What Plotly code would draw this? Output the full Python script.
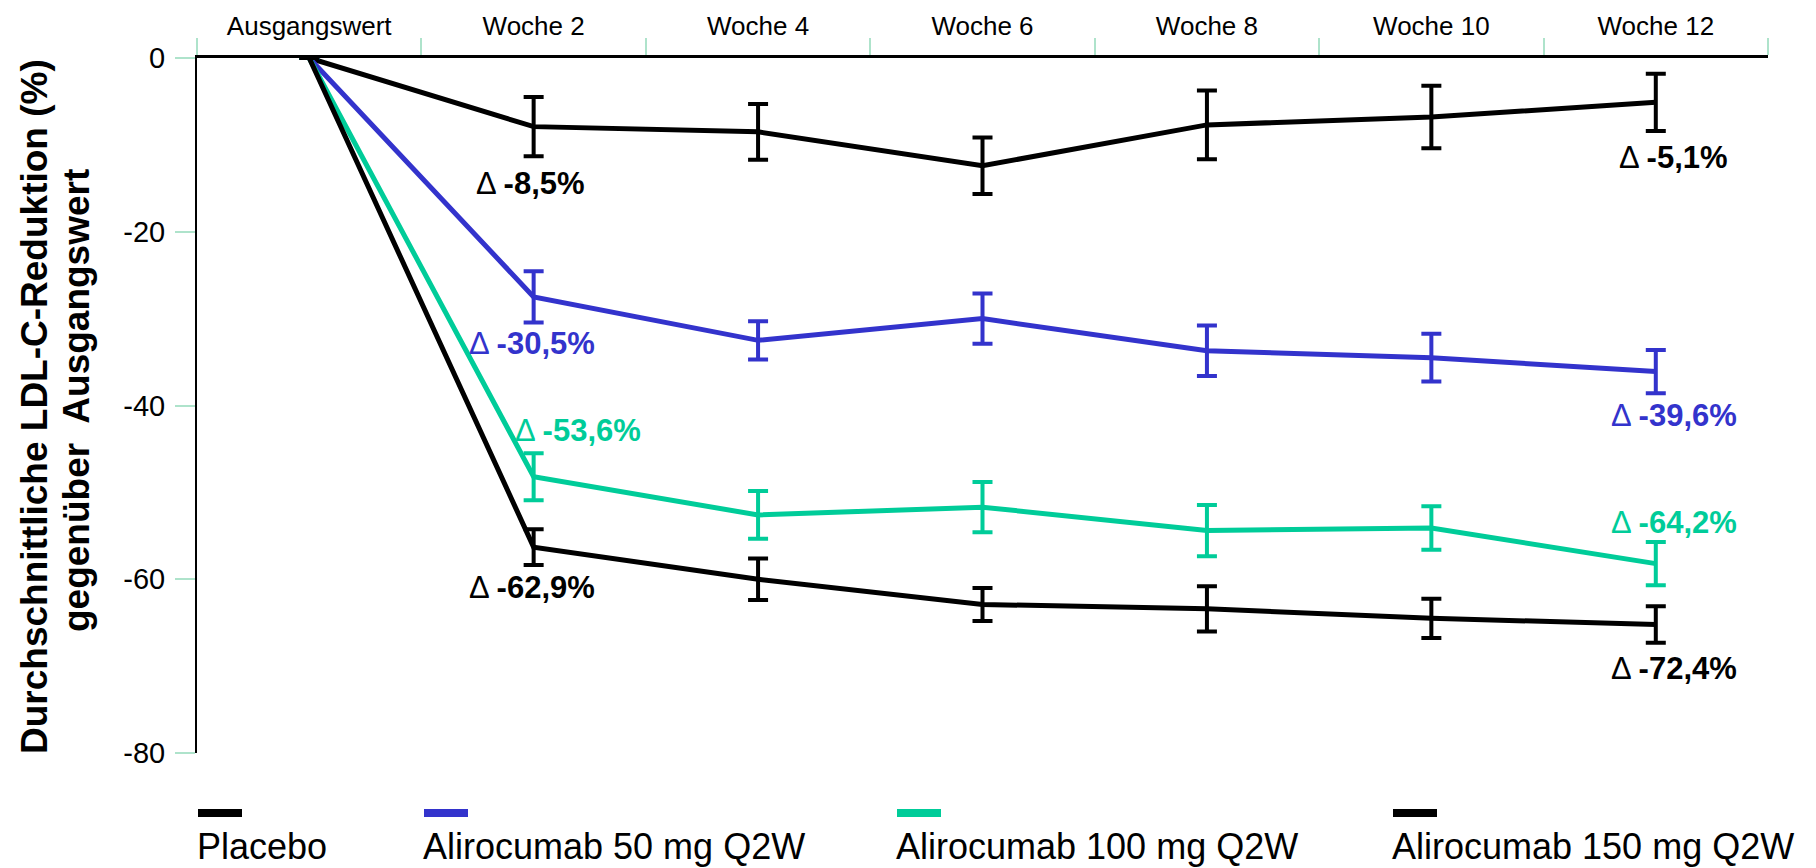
import plotly.graph_objects as go

# ---------------- data ----------------
categories = ["Ausgangswert", "Woche 2", "Woche 4", "Woche 6", "Woche 8", "Woche 10", "Woche 12"]

series_names = ["Placebo", "Alirocumab 50 mg Q2W", "Alirocumab 100 mg Q2W", "Alirocumab 150 mg Q2W"]
series_colors = ["#000000", "#3333CC", "#00CC99", "#000000"]

placebo = [0, -7.9, -8.5, -12.4, -7.7, -6.8, -5.1]
placebo_err = [None, 3.4, 3.2, 3.25, 3.95, 3.6, 3.3]

ali50 = [0, -27.5, -32.5, -30.0, -33.7, -34.5, -36.1]
ali50_err = [None, 2.95, 2.2, 2.9, 2.9, 2.75, 2.5]

ali100 = [0, -48.2, -52.6, -51.7, -54.4, -54.1, -58.2]
ali100_err = [None, 2.7, 2.75, 2.9, 2.95, 2.5, 2.5]

ali150 = [0, -56.3, -60.0, -62.9, -63.4, -64.5, -65.2]
ali150_err = [None, 2.05, 2.4, 1.9, 2.6, 2.25, 2.1]

values = [placebo, ali50, ali100, ali150]
errors = [placebo_err, ali50_err, ali100_err, ali150_err]

# delta labels: (series index, category, text, y position, horizontal shift)
delta_series = [0, 0, 1, 1, 2, 2, 3, 3]
delta_cats = ["Woche 2", "Woche 12", "Woche 2", "Woche 12", "Woche 2", "Woche 12", "Woche 2", "Woche 12"]
delta_texts = ["-8,5%", "-5,1%", "-30,5%", "-39,6%", "-53,6%", "-64,2%", "-62,9%", "-72,4%"]
delta_y = [-14.4, -11.5, -32.9, -41.2, -42.9, -53.5, -61.0, -70.3]
delta_xshift = [-3, 18, -2, 18, 44, 18, -2, 18]

y_ticks = [0, -20, -40, -60, -80]
y_title_1 = "Durchschnittliche LDL-C-Reduktion (%)"
y_title_2 = "gegenüber  Ausgangswert"

# ---------------- layout geometry (pixels) ----------------
W, H = 1816, 868
ML, MR, MT, MB = 197, 48, 58, 115
PW, PH = W - ML - MR, H - MT - MB

def px_x(px):
    return (px - ML) / PW

def px_y(py):
    return (H - MB - py) / PH

FONT = "Liberation Sans, Arial, sans-serif"
TICK_GREEN = "#aee3cb"

fig = go.Figure()

for name, col, vals, errs in zip(series_names, series_colors, values, errors):
    fig.add_trace(go.Scatter(
        x=categories, y=vals, name=name, mode="lines",
        line=dict(color=col, width=5),
        error_y=dict(type="data", array=errs, visible=True, color=col,
                     thickness=4, width=10),
        showlegend=False, cliponaxis=False,
    ))

annotations = []
for si, cat, txt, yv, xs in zip(delta_series, delta_cats, delta_texts, delta_y, delta_xshift):
    annotations.append(dict(
        x=cat, y=yv, xref="x", yref="y", xshift=xs,
        text="Δ <b>" + txt + "</b>", showarrow=False,
        font=dict(family=FONT, size=31, color=series_colors[si]),
        xanchor="center", yanchor="middle",
    ))

# y-axis title (two rotated lines)
annotations.append(dict(
    x=px_x(34), y=px_y(407), xref="paper", yref="paper",
    text="<b>" + y_title_1 + "</b>", showarrow=False, textangle=-90,
    font=dict(family=FONT, size=37, color="#000000"),
    xanchor="center", yanchor="middle",
))
annotations.append(dict(
    x=px_x(76), y=px_y(401), xref="paper", yref="paper",
    text="<b>" + y_title_2 + "</b>", showarrow=False, textangle=-90,
    font=dict(family=FONT, size=37, color="#000000"),
    xanchor="center", yanchor="middle",
))

# custom legend: key line above text
legend_px = [198, 424, 897, 1393]
shapes = []
for name, col, lx in zip(series_names, series_colors, legend_px):
    shapes.append(dict(
        type="line", xref="paper", yref="paper",
        x0=px_x(lx), x1=px_x(lx + 44), y0=px_y(813), y1=px_y(813),
        line=dict(color=col, width=8),
    ))
    annotations.append(dict(
        x=px_x(lx - 3), y=px_y(846), xref="paper", yref="paper",
        text=name, showarrow=False,
        font=dict(family=FONT, size=36, color="#000000"),
        xanchor="left", yanchor="middle",
    ))

fig.update_layout(
    width=W, height=H,
    margin=dict(l=ML, r=MR, t=MT, b=MB, pad=0),
    paper_bgcolor="white", plot_bgcolor="white",
    font=dict(family=FONT, color="#000000"),
    xaxis=dict(
        type="category", side="top", categoryorder="array", categoryarray=categories,
        range=[-0.5, len(categories) - 0.5], autorange=False,
        showline=True, linecolor="#000000", linewidth=2.5,
        ticks="outside", tickson="boundaries", ticklen=17, tickwidth=2, tickcolor=TICK_GREEN,
        tickfont=dict(family=FONT, size=26, color="#000000"),
        ticklabelstandoff=10,
        showgrid=False, zeroline=False, fixedrange=True,
    ),
    yaxis=dict(
        range=[-80, 0], autorange=False, tickvals=y_ticks, ticktext=[str(v) for v in y_ticks],
        showline=True, linecolor="#000000", linewidth=2,
        ticks="outside", ticklen=20, tickwidth=2, tickcolor=TICK_GREEN,
        tickfont=dict(family=FONT, size=29, color="#000000"),
        ticklabelstandoff=4,
        showgrid=False, zeroline=False, fixedrange=True,
    ),
    annotations=annotations,
    shapes=shapes,
    showlegend=False,
)

fig.write_html("out.html")
